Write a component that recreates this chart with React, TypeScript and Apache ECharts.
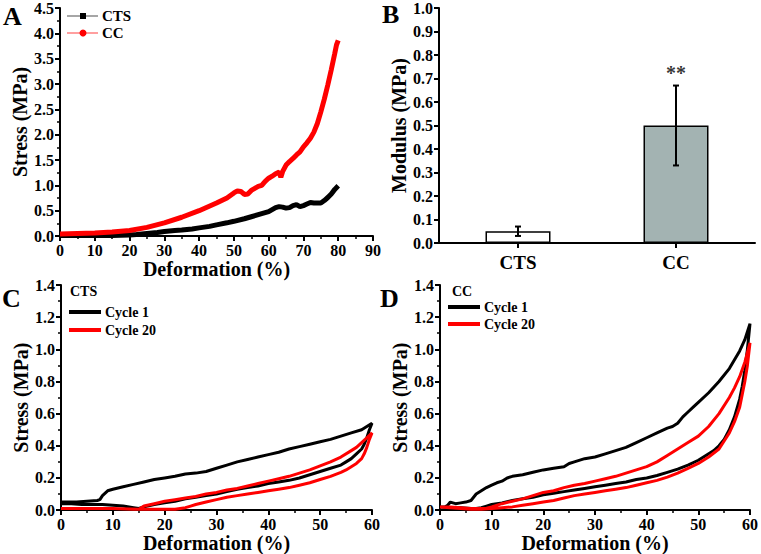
import React, { useEffect, useRef } from "react";
import * as echarts from "echarts";

// ---------- Panel A: compression stress-strain ----------
const ctsStrainA = [0, 5, 10, 15, 20, 22, 25, 28, 30, 33, 35, 38, 40, 43, 45, 48, 50, 53, 55, 58, 60, 61, 62, 63, 64, 65, 66, 67, 68, 69, 70, 71, 72, 73, 74, 75, 76, 77, 78, 79, 80];
const ctsStressA = [0.01, 0.01, 0.01, 0.01, 0.02, 0.03, 0.05, 0.07, 0.09, 0.11, 0.12, 0.14, 0.16, 0.19, 0.22, 0.26, 0.29, 0.34, 0.38, 0.44, 0.48, 0.52, 0.56, 0.58, 0.57, 0.55, 0.56, 0.6, 0.62, 0.58, 0.6, 0.63, 0.66, 0.65, 0.65, 0.65, 0.7, 0.76, 0.83, 0.92, 0.99];
const ccStrainA = [0, 5, 10, 15, 20, 25, 30, 35, 40, 45, 48, 50, 51, 52, 53, 54, 55, 56, 57, 58, 59, 60, 61, 62, 63, 63.5, 64, 65, 66, 67, 68, 69, 70, 71, 72, 73, 74, 75, 76, 77, 78, 79, 79.5, 80];
const ccStressA = [0.04, 0.05, 0.06, 0.08, 0.11, 0.17, 0.26, 0.37, 0.5, 0.65, 0.75, 0.85, 0.89, 0.88, 0.82, 0.83, 0.9, 0.94, 0.98, 1.0, 1.08, 1.14, 1.18, 1.23, 1.26, 1.16, 1.27, 1.4, 1.47, 1.53, 1.6, 1.66, 1.76, 1.84, 1.93, 2.05, 2.22, 2.45, 2.7, 2.98, 3.28, 3.6, 3.77, 3.86];

// ---------- Panel B: modulus ----------
const modulusCategories = ["CTS", "CC"];
const modulusValues = [0.05, 0.5];
const modulusErrors = [0.02, 0.17];
const significanceMarks = ["", "**"];
const significanceY = [0, 0.725];

// ---------- Panel C: CTS cyclic ----------
const cts1Strain = [0, 3, 5, 7, 7.5, 8, 9, 10, 12, 14, 16, 18, 20, 22, 24, 26, 28, 30, 32, 34, 36, 38, 40, 42, 44, 46, 48, 50, 52, 54, 56, 58, 60,
  59.5, 59, 58.5, 58, 57, 56, 55, 54, 52, 50, 48, 46, 44, 42, 40, 38, 36, 34, 32, 30, 28, 26, 24, 22, 20, 18, 16, 15, 14, 12, 10, 8, 6, 4, 2, 0];
const cts1Stress = [0.05, 0.05, 0.055, 0.06, 0.065, 0.09, 0.12, 0.13, 0.145, 0.16, 0.175, 0.19, 0.2, 0.21, 0.225, 0.23, 0.24, 0.26, 0.28, 0.3, 0.315, 0.33, 0.345, 0.36, 0.38, 0.395, 0.41, 0.425, 0.44, 0.46, 0.48, 0.5, 0.54,
  0.5, 0.45, 0.41, 0.38, 0.35, 0.32, 0.3, 0.28, 0.26, 0.24, 0.22, 0.2, 0.185, 0.175, 0.165, 0.15, 0.14, 0.13, 0.115, 0.1, 0.09, 0.08, 0.07, 0.055, 0.045, 0.035, 0.02, 0.01, 0.015, 0.025, 0.03, 0.035, 0.035, 0.035, 0.04, 0.04];
const cts20Strain = [0, 5, 10, 14, 15, 16, 18, 20, 22, 24, 26, 28, 30, 32, 34, 36, 38, 40, 42, 44, 46, 48, 50, 52, 54, 56, 57, 58, 59, 60,
  59.5, 59, 58.5, 58, 57, 56, 55, 54, 52, 50, 48, 46, 44, 42, 40, 38, 36, 34, 32, 30, 28, 26, 25, 24, 23, 22, 20, 15, 10, 5, 0];
const cts20Stress = [0.01, 0.01, 0.01, 0.005, 0.005, 0.025, 0.04, 0.055, 0.065, 0.075, 0.085, 0.1, 0.11, 0.125, 0.135, 0.15, 0.165, 0.18, 0.195, 0.21, 0.23, 0.25, 0.275, 0.3, 0.33, 0.37, 0.39, 0.42, 0.45, 0.48,
  0.44, 0.39, 0.35, 0.32, 0.29, 0.27, 0.25, 0.235, 0.21, 0.19, 0.17, 0.155, 0.14, 0.13, 0.12, 0.11, 0.1, 0.09, 0.08, 0.065, 0.05, 0.035, 0.025, 0.015, 0.01, 0.005, 0.005, 0.005, 0.01, 0.01, 0.01];

// ---------- Panel D: CC cyclic ----------
const cc1Strain = [0, 1, 1.5, 2, 3, 4, 5, 6, 6.5, 7, 8, 9, 10, 11, 12, 13, 14, 16, 18, 20, 22, 24, 25, 26, 28, 30, 32, 34, 36, 38, 40, 42, 44, 45, 46, 47, 48, 49, 50, 52, 54, 56, 58, 59, 60,
  59.5, 59, 58.5, 58, 57, 56, 55, 54, 53, 52, 50, 48, 46, 44, 42, 40, 38, 36, 34, 32, 30, 28, 26, 24, 22, 20, 18, 16, 14, 12, 10, 9, 8, 7, 6, 4, 2, 0];
const cc1Stress = [0.02, 0.02, 0.03, 0.05, 0.04, 0.045, 0.05, 0.06, 0.08, 0.1, 0.12, 0.14, 0.155, 0.17, 0.18, 0.2, 0.21, 0.22, 0.235, 0.25, 0.26, 0.27, 0.29, 0.3, 0.32, 0.33, 0.35, 0.37, 0.39, 0.42, 0.45, 0.48, 0.51, 0.52, 0.54, 0.58, 0.61, 0.64, 0.67, 0.73, 0.8, 0.88, 0.99, 1.06, 1.16,
  1.0, 0.87, 0.77, 0.69, 0.58, 0.5, 0.44, 0.4, 0.37, 0.35, 0.31, 0.28, 0.255, 0.235, 0.215, 0.2, 0.19, 0.175, 0.165, 0.155, 0.145, 0.135, 0.125, 0.115, 0.105, 0.095, 0.08, 0.07, 0.06, 0.045, 0.035, 0.025, 0.015, 0.01, 0.01, 0.015, 0.015, 0.02];
const cc20Strain = [0, 2, 4, 6, 8, 9, 10, 12, 14, 16, 18, 20, 22, 24, 26, 28, 30, 32, 34, 36, 38, 40, 42, 44, 46, 48, 50, 52, 54, 56, 57, 58, 59, 60,
  59.5, 59, 58.5, 58, 57, 56, 55, 54, 52, 50, 48, 46, 44, 42, 40, 38, 36, 34, 32, 30, 28, 26, 24, 22, 20, 18, 16, 14, 12, 10, 8, 6, 4, 2, 0];
const cc20Stress = [0.02, 0.02, 0.015, 0.01, 0.01, 0.012, 0.02, 0.04, 0.055, 0.07, 0.09, 0.11, 0.12, 0.14, 0.155, 0.165, 0.18, 0.195, 0.21, 0.23, 0.25, 0.27, 0.3, 0.34, 0.38, 0.42, 0.46, 0.52, 0.6, 0.7, 0.76, 0.83, 0.92, 1.04,
  0.9, 0.8, 0.72, 0.64, 0.55, 0.48, 0.43, 0.38, 0.33, 0.29, 0.26, 0.23, 0.205, 0.185, 0.17, 0.155, 0.14, 0.13, 0.12, 0.11, 0.1, 0.09, 0.075, 0.06, 0.05, 0.04, 0.03, 0.02, 0.015, 0.01, 0.005, 0.005, 0.01, 0.015, 0.02];

const FONT = "'Liberation Serif', 'Times New Roman', serif";
const zip = (xs: number[], ys: number[]) => xs.map((x, i) => [x, ys[i]]);

const axisLine = { show: true, onZero: false, lineStyle: { color: "#000", width: 2 } };
const tick = { show: true, inside: false, length: 5, lineStyle: { color: "#000", width: 2 } };
const minor = { show: true, splitNumber: 2, length: 3, lineStyle: { color: "#000", width: 1.5 } };
const label = (fmt?: (v: number) => string) => ({
  color: "#000", fontFamily: FONT, fontWeight: "bold", fontSize: 16, margin: 6,
  formatter: fmt,
});
const nameStyle = { color: "#000", fontFamily: FONT, fontWeight: "bold", fontSize: 20 };

function valueX(gridIndex: number, max: number, gap: number) {
  return {
    type: "value", gridIndex, min: 0, max, interval: 10,
    axisLine, axisTick: tick, minorTick: minor, splitLine: { show: false },
    axisLabel: label(), name: "Deformation (%)", nameLocation: "middle", nameGap: gap, nameTextStyle: nameStyle,
  };
}
function valueY(gridIndex: number, max: number, interval: number, name: string, gap: number, minorOn = true) {
  return {
    type: "value", gridIndex, min: 0, max, interval,
    axisLine, axisTick: tick, minorTick: minorOn ? minor : { show: false }, splitLine: { show: false },
    axisLabel: label((v: number) => v.toFixed(1)),
    name, nameLocation: "middle", nameGap: gap, nameTextStyle: nameStyle,
  };
}

function txt(x: number, y: number, text: string, size: number, extra: any = {}) {
  return {
    type: "text", x, y, silent: true,
    style: { text, fill: "#000", font: `bold ${size}px ${FONT}`, textVerticalAlign: "middle", ...extra },
  };
}
function legLine(x1: number, x2: number, y: number, color: string, width: number) {
  return { type: "line", silent: true, shape: { x1, y1: y, x2, y2: y }, style: { stroke: color, lineWidth: width } };
}

export default function App() {
  const ref = useRef<HTMLDivElement>(null);
  useEffect(() => {
    if (!ref.current) return;
    const chart = echarts.init(ref.current, null, { renderer: "svg" });
    const errData = modulusValues.map((v, i) => [i, v - modulusErrors[i], v + modulusErrors[i]]);
    const option: any = {
      animation: false,
      backgroundColor: "#fff",
      grid: [
        { left: 60, top: 7, width: 313, height: 229 },
        { left: 439, top: 7, width: 316, height: 236 },
        { left: 61, top: 285, width: 311, height: 227 },
        { left: 440, top: 285, width: 310, height: 226 },
      ],
      xAxis: [
        valueX(0, 90, 23),
        {
          type: "category", gridIndex: 1, data: modulusCategories,
          axisLine, axisTick: { ...tick, alignWithLabel: true },
          axisLabel: { color: "#000", fontFamily: FONT, fontWeight: "bold", fontSize: 19, margin: 10 },
        },
        valueX(2, 60, 21),
        valueX(3, 60, 21),
      ],
      yAxis: [
        valueY(0, 4.5, 0.5, "Stress (MPa)", 26),
        valueY(1, 1.0, 0.1, "Modulus (MPa)", 29, false),
        valueY(2, 1.4, 0.2, "Stress (MPa)", 26),
        valueY(3, 1.4, 0.2, "Stress (MPa)", 27),
      ],
      series: [
        { type: "line", name: "CTS", xAxisIndex: 0, yAxisIndex: 0, data: zip(ctsStrainA, ctsStressA), showSymbol: false, clip: false, lineStyle: { color: "#000", width: 5 }, itemStyle: { color: "#000" } },
        { type: "line", name: "CC", xAxisIndex: 0, yAxisIndex: 0, data: zip(ccStrainA, ccStressA), showSymbol: false, clip: false, lineStyle: { color: "#ff0000", width: 5 }, itemStyle: { color: "#ff0000" } },
        {
          type: "bar", xAxisIndex: 1, yAxisIndex: 1, barWidth: 65,
          data: modulusValues.map((v, i) => ({ value: v, itemStyle: { color: i === 0 ? "#ffffff" : "#a3b3b2", borderColor: "#000", borderWidth: 1.5 } })),
        },
        {
          type: "custom", xAxisIndex: 1, yAxisIndex: 1, z: 5, data: errData,
          renderItem: (params: any, api: any) => {
            const i = api.value(0);
            const lo = api.coord([i, api.value(1)]);
            const hi = api.coord([i, api.value(2)]);
            const st = { stroke: "#000", lineWidth: 2 };
            return {
              type: "group",
              children: [
                { type: "line", shape: { x1: hi[0], y1: hi[1], x2: lo[0], y2: lo[1] }, style: st },
                { type: "line", shape: { x1: hi[0] - 3, y1: hi[1], x2: hi[0] + 3, y2: hi[1] }, style: st },
                { type: "line", shape: { x1: lo[0] - 3, y1: lo[1], x2: lo[0] + 3, y2: lo[1] }, style: st },
              ],
            };
          },
        },
        {
          type: "scatter", xAxisIndex: 1, yAxisIndex: 1, symbolSize: 0, z: 6,
          data: significanceMarks.map((m, i) => ({ value: [i, significanceY[i]], label: { show: m !== "", formatter: m, position: "inside", color: "#000", fontFamily: FONT, fontWeight: "bold", fontSize: 20 } })),
        },
        { type: "line", name: "Cycle 1", xAxisIndex: 2, yAxisIndex: 2, data: zip(cts1Strain, cts1Stress), showSymbol: false, clip: false, lineStyle: { color: "#000", width: 3 } },
        { type: "line", name: "Cycle 20", xAxisIndex: 2, yAxisIndex: 2, data: zip(cts20Strain, cts20Stress), showSymbol: false, clip: false, lineStyle: { color: "#ff0000", width: 3 } },
        { type: "line", name: "Cycle 1", xAxisIndex: 3, yAxisIndex: 3, data: zip(cc1Strain, cc1Stress), showSymbol: false, clip: false, lineStyle: { color: "#000", width: 3 } },
        { type: "line", name: "Cycle 20", xAxisIndex: 3, yAxisIndex: 3, data: zip(cc20Strain, cc20Stress), showSymbol: false, clip: false, lineStyle: { color: "#ff0000", width: 3 } },
      ],
      graphic: [
        txt(3, 16, "A", 26),
        txt(382, 14, "B", 26),
        txt(2, 298, "C", 26),
        txt(380, 298, "D", 26),
        // legend A
        legLine(67, 98, 16, "#888888", 1.5),
        { type: "rect", silent: true, shape: { x: 80, y: 13, width: 6, height: 6 }, style: { fill: "#000" } },
        txt(102, 16, "CTS", 15),
        legLine(67, 98, 33, "#ff7f7f", 1.5),
        { type: "circle", silent: true, shape: { cx: 83, cy: 33, r: 3.5 }, style: { fill: "#ff0000" } },
        txt(102, 33, "CC", 15),
        // panel C labels
        txt(70, 291, "CTS", 14),
        legLine(69, 101, 312, "#000", 4),
        txt(105, 312, "Cycle 1", 14),
        legLine(69, 101, 330, "#ff0000", 4),
        txt(105, 330, "Cycle 20", 14),
        // panel D labels
        txt(452, 291, "CC", 14),
        legLine(448, 480, 307, "#000", 4),
        txt(484, 307, "Cycle 1", 14),
        legLine(448, 480, 324, "#ff0000", 4),
        txt(484, 324, "Cycle 20", 14),
      ],
    };
    chart.setOption(option);
    return () => chart.dispose();
  }, []);
  return <div ref={ref} style={{ position: "absolute", left: 0, top: 0, width: 761, height: 554 }} />;
}
